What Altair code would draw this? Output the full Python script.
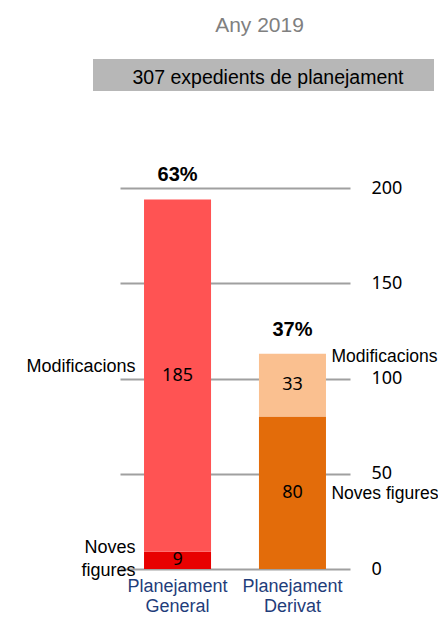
import altair as alt
import pandas as pd

# ---- data ----
categories = ["Planejament General", "Planejament Derivat"]
segments = ["Noves figures", "Modificacions"]
general_values = [9, 185]
derivat_values = [80, 33]
general_colors = ["#E80000", "#FF5353"]
derivat_colors = ["#E36C0A", "#FAC090"]
title_text = "Any 2019"
subtitle_text = "307 expedients de planejament"
y_ticks = [0, 50, 100, 150, 200]

ann_text = ["Modificacions", "Noves\nfigures", "Modificacions", "Noves figures"]
ann_cat = ["Planejament General", "Planejament General", "Planejament Derivat", "Planejament Derivat"]
ann_y = [106, 10.8, 111.3, 39.4]
ann_side = ["left", "left", "right", "right"]

SANS = "Liberation Sans, Arial, sans-serif"
NUM = "Noto Sans"

rows = []
for cat, vals, cols in [(categories[0], general_values, general_colors),
                        (categories[1], derivat_values, derivat_colors)]:
    for i, (seg, v, c) in enumerate(zip(segments, vals, cols)):
        rows.append({"cat": cat, "seg": seg, "value": v, "color": c, "ord": i})
df = pd.DataFrame(rows)
ann = pd.DataFrame({"text": ann_text, "cat": ann_cat, "y": ann_y, "side": ann_side})

xscale = alt.Scale(domain=categories, paddingInner=0.417, paddingOuter=0.209)
yscale = alt.Scale(domain=[0, 200])

x_enc = alt.X("cat:N", scale=xscale, sort=categories, title=None,
              axis=alt.Axis(labelExpr="split(datum.label, ' ')", labelFont=SANS,
                            labelFontSize=18, labelColor="#1F3D7A", labelLineHeight=20,
                            labelPadding=8, domain=False, ticks=False, labelAngle=0))

base = alt.Chart(df)

bars = base.mark_bar().encode(
    x=x_enc,
    y=alt.Y("value:Q", stack="zero", scale=yscale, title=None,
            axis=alt.Axis(values=y_ticks, orient="right", domain=False, ticks=False,
                          grid=True, gridColor="#A0A0A0", gridWidth=2,
                          labelFont=NUM, labelFontSize=18, labelColor="#000000",
                          labelPadding=21, labelAlign="left")),
    color=alt.Color("color:N", scale=None),
    order=alt.Order("ord:Q"),
)

values_txt = base.transform_stack(
    stack="value", groupby=["cat"], as_=["v0", "v1"],
    sort=[alt.SortField("ord", order="ascending")]
).transform_calculate(mid="(datum.v0 + datum.v1) / 2").mark_text(
    font=NUM, fontSize=18, color="#000000", baseline="middle"
).encode(
    x=alt.X("cat:N", scale=xscale, sort=categories),
    y=alt.Y("mid:Q", scale=yscale),
    text="value:Q",
)

pct_txt = base.transform_joinaggregate(
    grand="sum(value)"
).transform_aggregate(
    total="sum(value)", grand="max(grand)", groupby=["cat"]
).transform_calculate(
    pct="format(datum.total / datum.grand, '.0%')"
).mark_text(font=SANS, fontWeight="bold", fontSize=20, color="#000000",
            baseline="alphabetic", dy=-18).encode(
    x=alt.X("cat:N", scale=xscale, sort=categories),
    y=alt.Y("total:Q", scale=yscale),
    text="pct:N",
)

ann_base = alt.Chart(ann)
ann_left = ann_base.transform_filter("datum.side == 'left'").mark_text(
    font=SANS, fontSize=18, color="#000000", align="right", baseline="middle",
    dx=-42, lineBreak="\n", lineHeight=23
).encode(x=alt.X("cat:N", scale=xscale, sort=categories),
         y=alt.Y("y:Q", scale=yscale), text="text:N")
ann_right = ann_base.transform_filter("datum.side == 'right'").mark_text(
    font=SANS, fontSize=17.5, color="#000000", align="left", baseline="middle",
    dx=39, lineBreak="\n", lineHeight=23
).encode(x=alt.X("cat:N", scale=xscale, sort=categories),
         y=alt.Y("y:Q", scale=yscale), text="text:N")

tdf = pd.DataFrame({"t": [title_text], "s": [subtitle_text]})
title_mark = alt.Chart(tdf).mark_text(
    font=SANS, fontSize=21, color="#808080", align="center", baseline="alphabetic"
).encode(x=alt.value(139.5), y=alt.value(-156), text="t:N")
box = alt.Chart(tdf).mark_rect(color="#B7B7B7").encode(
    x=alt.value(-27), x2=alt.value(314), y=alt.value(-129), y2=alt.value(-97))
box_text = alt.Chart(tdf).mark_text(
    font=SANS, fontSize=19.5, color="#000000", align="center", baseline="alphabetic"
).encode(x=alt.value(148), y=alt.value(-104), text="s:N")

chart = alt.layer(bars, values_txt, pct_txt, ann_left, ann_right,
                  box, box_text, title_mark).properties(
    width=230, height=381,
    autosize=alt.AutoSizeParams(type="none"),
    padding={"left": 112, "top": 180, "right": 88, "bottom": 46},
).configure_view(stroke=None)

chart.save("out.html", embed_options={"renderer": "svg", "actions": False})
